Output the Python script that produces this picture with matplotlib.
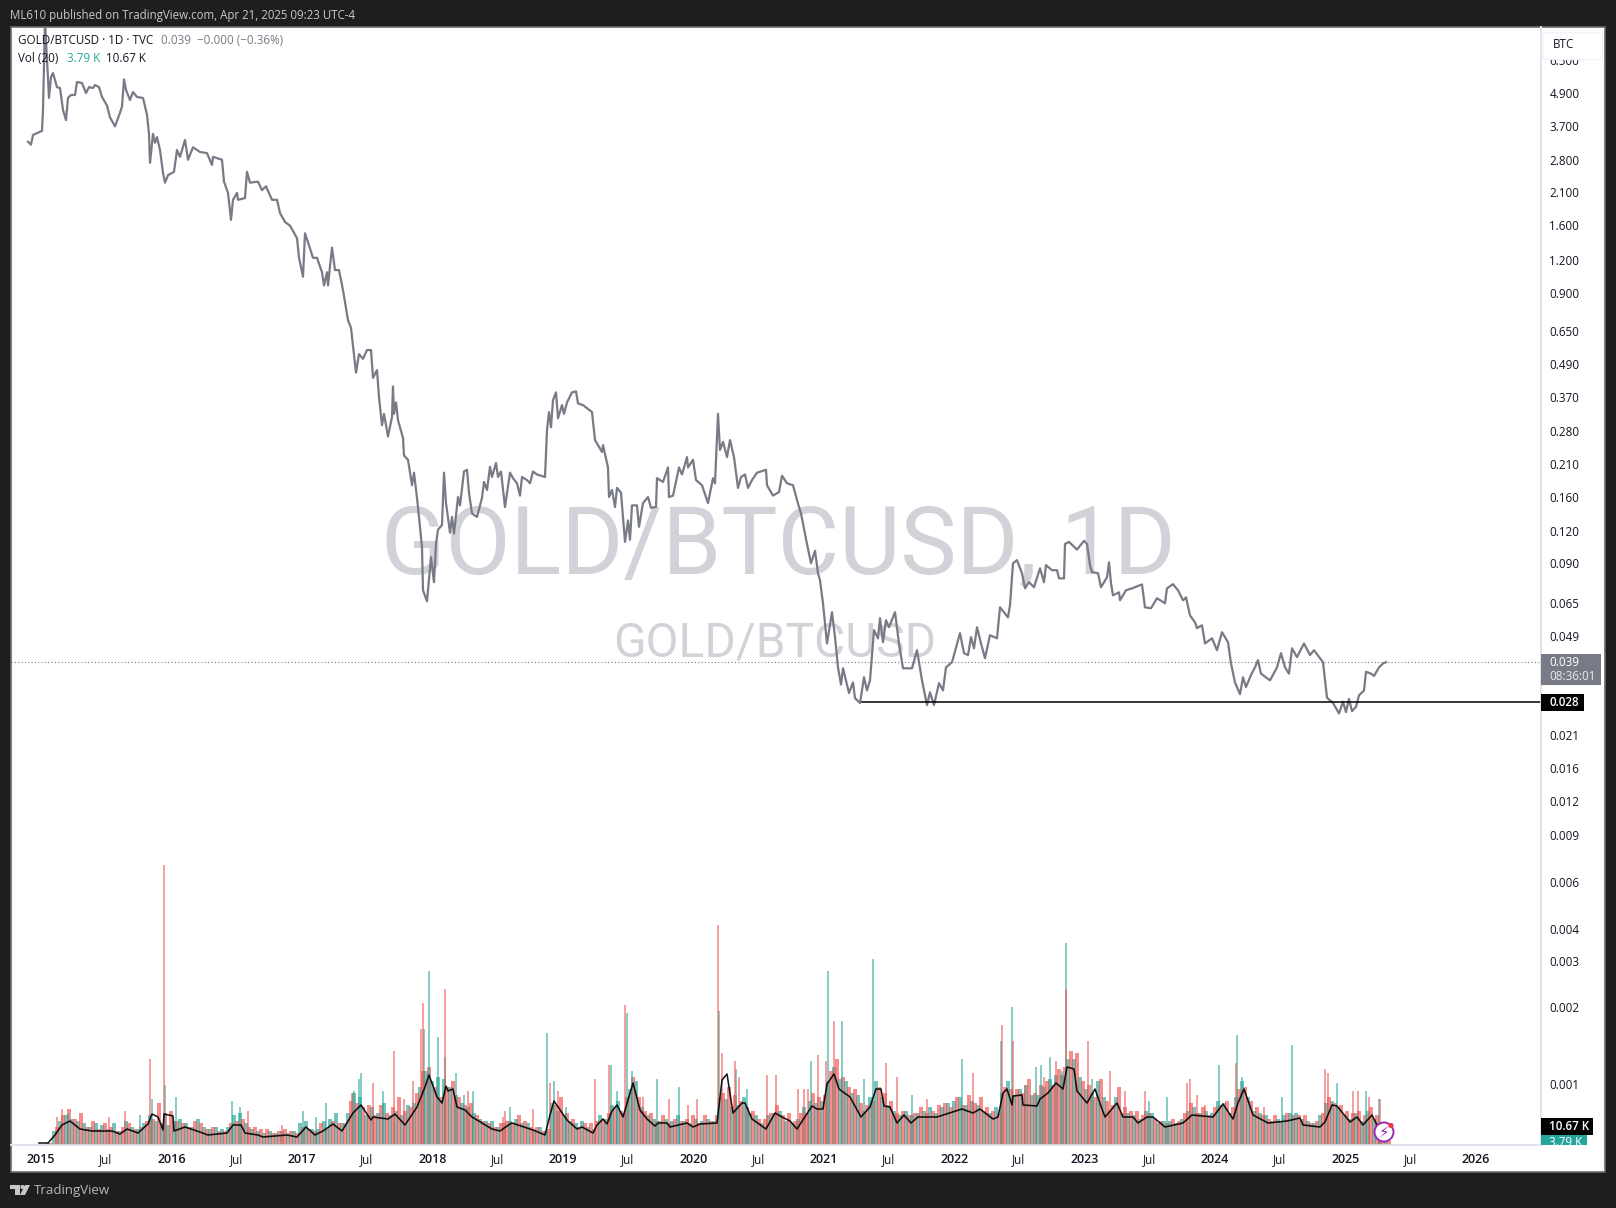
import numpy as np
import pandas as pd
import matplotlib
matplotlib.use("Agg")
import matplotlib.pyplot as plt
from matplotlib.patches import Rectangle, Circle, Polygon

# x positions are kept as weeks since 2015-01-01
price_weeks = [-5.2, -4.0, -3.2, 0.4, 0.8, 1.6, 3.2, 4.0, 4.8, 6.4, 7.6, 8.8, 10, 10.8, 12, 13.6, 14.4, 16.4, 18, 19.2,
               20.8, 21.6, 23.2, 24.4, 26.4, 27.6, 29.6, 31.6, 32.4, 33.2, 34, 35.6, 36.8, 38.4, 40.8, 42.4, 43.2, 43.6, 44.8, 45.6,
               46.4, 47.6, 48.8, 49.6, 50.8, 53.2, 54.4, 55.6, 57.6, 58.8, 60.8, 63.6, 66.4, 68.4, 68.8, 72.4, 73.2, 74.8, 76, 76.8,
               78.4, 78.8, 81.6, 82.4, 83.6, 86.8, 88.4, 90, 92.4, 94.4, 95.6, 97.6, 99.6, 102.4, 103.2, 104.8, 105.6, 106.8, 108.8, 110.4,
               112.4, 113.2, 114.4, 114.8, 116.4, 117.6, 119.2, 120.8, 122.8, 124, 126, 127.2, 128.8, 130.4, 132, 132.8, 134.4, 135.2, 136.4, 137.2,
               138.8, 140.4, 140.8, 141.2, 142, 142.8, 144.8, 145.2, 146.8, 148.4, 149.2, 150.4, 151.2, 152.4, 152.8, 154.4, 156, 157.2, 158, 158.8,
               160.4, 161.2, 162, 163.6, 164.4, 165.2, 166.8, 167.6, 169.2, 170.4, 171.2, 172.4, 174.4, 176.4, 177.2, 178.4, 179.6, 180.4, 182, 182.8,
               184, 185.6, 187.6, 188.8, 190.4, 191.6, 192.4, 194.4, 195.6, 196.8, 198.4, 201.6, 202.4, 203.2, 204, 204.8, 206, 206.8, 208.4, 209.2,
               210.4, 212.4, 214, 214.8, 216.8, 220.4, 221.6, 222.8, 224.4, 224.8, 226.8, 227.2, 228.4, 229.6, 230.4, 232, 233.6, 234.8, 235.6, 236.4,
               238.4, 239.2, 240.8, 242.8, 244, 246, 246.4, 248.8, 250.8, 251.2, 252.8, 255.2, 256.4, 258.4, 258.8, 260.8, 262, 264.4, 266.8, 268.8,
               269.6, 270.8, 271.6, 272.8, 274.4, 275.6, 277.2, 278, 278.8, 280, 281.6, 282.8, 284.4, 286.4, 290, 290.4, 292.8, 295.2, 296.4, 298.4,
               300.8, 302.4, 304, 306.4, 308, 309.6, 310.8, 311.6, 312.8, 314.4, 316.4, 317.6, 318.8, 320, 320.8, 323.2, 324.8, 325.6, 327.6, 329.2,
               330.4, 331.6, 333.2, 334.8, 335.6, 336.8, 338, 339.2, 341.6, 343.2, 344.8, 348.4, 350.4, 352.4, 354.4, 355.6, 357.2, 359.2, 360.8, 362,
               364.4, 367.6, 369.2, 370.8, 372, 373.2, 374.4, 376, 377.6, 379.6, 382.4, 383.6, 386.8, 387.6, 388.8, 390.4, 392.4, 393.6, 395.2, 397.2,
               399.6, 401.2, 402, 404.4, 406.4, 407.2, 409.2, 409.6, 411.2, 414.4, 417.2, 418.4, 419.6, 420.4, 422.8, 424, 426.4, 427.2, 428, 428.8,
               431.2, 431.6, 434, 436.4, 440.4, 441.6, 444, 446.4, 449.6, 450.4, 452.8, 454.8, 456.8, 458, 459.6, 461.6, 462.4, 464.4, 465.6, 468.4,
               470.4, 472.4, 474.8, 476, 477.6, 479.6, 480.8, 482, 484, 485.6, 486.8, 488, 491.6, 494.4, 496, 497.6, 499.2, 500.4, 502.4, 505.2,
               507.6, 509.2, 512.8, 514.4, 516.8, 519.2, 520.8, 522, 523.2, 524.4, 526, 527.2, 529.2, 530, 532, 533.2, 535.2, 536.8, 538]
price_values = [3.25, 3.17, 3.44, 3.56, 4.25, 9.0, 4.70, 5.61, 5.80, 5.15, 5.11, 4.25, 3.90, 4.70, 4.82, 4.82, 5.38, 5.33, 4.90, 5.15,
                5.11, 5.24, 5.15, 4.74, 4.41, 3.99, 3.70, 4.15, 4.37, 5.50, 5.03, 4.62, 4.94, 4.74, 4.70, 4.08, 3.47, 2.72, 3.47, 3.22,
                3.38, 3.03, 2.50, 2.30, 2.45, 2.52, 3.03, 2.86, 3.30, 2.79, 3.10, 2.98, 2.95, 2.67, 2.86, 2.79, 2.32, 2.11, 1.68, 1.99,
                2.11, 1.99, 2.02, 2.52, 2.30, 2.32, 2.16, 2.23, 1.99, 1.99, 1.78, 1.65, 1.60, 1.44, 1.22, 1.04, 1.50, 1.39, 1.22, 1.22,
                1.08, 0.966, 1.08, 0.966, 1.33, 1.10, 1.10, 0.929, 0.721, 0.675, 0.463, 0.541, 0.520, 0.560, 0.560, 0.443, 0.473, 0.377, 0.297, 0.327,
                0.270, 0.318, 0.412, 0.327, 0.360, 0.310, 0.267, 0.230, 0.222, 0.179, 0.199, 0.161, 0.137, 0.106, 0.0738, 0.0672, 0.0975, 0.0790, 0.109, 0.123,
                0.128, 0.199, 0.154, 0.120, 0.137, 0.119, 0.162, 0.151, 0.201, 0.204, 0.168, 0.141, 0.137, 0.161, 0.184, 0.172, 0.209, 0.192, 0.216, 0.192,
                0.201, 0.149, 0.199, 0.190, 0.182, 0.164, 0.192, 0.187, 0.182, 0.201, 0.196, 0.192, 0.285, 0.332, 0.292, 0.367, 0.392, 0.315, 0.352, 0.327,
                0.360, 0.392, 0.395, 0.357, 0.352, 0.332, 0.262, 0.251, 0.237, 0.251, 0.208, 0.162, 0.172, 0.149, 0.175, 0.168, 0.111, 0.133, 0.113, 0.151,
                0.151, 0.126, 0.154, 0.162, 0.148, 0.149, 0.190, 0.184, 0.208, 0.162, 0.164, 0.208, 0.196, 0.227, 0.208, 0.222, 0.187, 0.179, 0.154, 0.190,
                0.182, 0.327, 0.241, 0.258, 0.227, 0.262, 0.227, 0.199, 0.175, 0.192, 0.196, 0.175, 0.187, 0.199, 0.204, 0.179, 0.164, 0.169, 0.194, 0.182,
                0.179, 0.158, 0.141, 0.109, 0.0927, 0.103, 0.0852, 0.0803, 0.0661, 0.0471, 0.0613, 0.0497, 0.0385, 0.0333, 0.0382, 0.0310, 0.0339, 0.0297, 0.0285, 0.0354,
                0.0317, 0.0345, 0.0527, 0.0492, 0.0583, 0.0476, 0.0573, 0.0540, 0.0613, 0.0471, 0.0382, 0.0382, 0.0445, 0.0345, 0.0280, 0.0312, 0.0280, 0.0337, 0.0317, 0.0385,
                0.0402, 0.0514, 0.0434, 0.0427, 0.0497, 0.0452, 0.0540, 0.0471, 0.0416, 0.0505, 0.0492, 0.0639, 0.0587, 0.0650, 0.0927, 0.0951, 0.0852, 0.0750, 0.0790, 0.0757,
                0.0888, 0.0790, 0.0912, 0.0874, 0.0874, 0.0816, 0.0816, 0.109, 0.111, 0.104, 0.112, 0.109, 0.0912, 0.0860, 0.0852, 0.0757, 0.0823, 0.0935, 0.0783, 0.0707,
                0.0725, 0.0678, 0.0738, 0.0750, 0.0775, 0.0639, 0.0634, 0.0690, 0.0661, 0.0750, 0.0777, 0.0738, 0.0678, 0.0695, 0.0597, 0.0563, 0.0536, 0.0549, 0.0471, 0.0492,
                0.0445, 0.0518, 0.0476, 0.0398, 0.0339, 0.0307, 0.0354, 0.0326, 0.0361, 0.0385, 0.0409, 0.0365, 0.0345, 0.0385, 0.0434, 0.0385, 0.0365, 0.0452, 0.0420, 0.0471,
                0.0427, 0.0445, 0.0402, 0.0298, 0.0285, 0.0261, 0.0288, 0.0264, 0.0295, 0.0266, 0.0276, 0.0304, 0.0317, 0.0371, 0.0365, 0.0358, 0.0385, 0.0398, 0.0402]

# volume in thousands, one teal and one red value per 2.4 week slot
vol_up = [0, 1, 7, 12, 15, 13, 12, 11, 9, 11, 10, 8, 11, 7, 12, 9, 8, 11, 15, 12,
          11, 10, 12, 13, 11, 9, 13, 9, 8, 9, 8, 9, 15, 16, 11, 8, 7, 6, 7, 6,
          7, 6, 7, 11, 12, 8, 8, 12, 13, 16, 11, 16, 26, 24, 15, 19, 16, 21, 15, 17,
          15, 20, 21, 29, 37, 32, 34, 33, 29, 25, 21, 19, 16, 13, 12, 12, 9, 11, 12, 13,
          11, 11, 8, 9, 7, 21, 17, 15, 12, 11, 12, 9, 8, 15, 13, 20, 22, 16, 28, 32,
          19, 15, 13, 12, 13, 12, 15, 12, 11, 13, 12, 13, 12, 24, 23, 19, 20, 24, 16, 15,
          11, 15, 16, 17, 12, 11, 13, 19, 22, 21, 22, 32, 39, 33, 32, 26, 25, 17, 24, 32,
          24, 20, 17, 15, 17, 15, 16, 17, 19, 16, 19, 21, 22, 24, 20, 22, 20, 17, 16, 19,
          26, 32, 25, 28, 30, 25, 25, 29, 33, 35, 35, 43, 43, 34, 28, 26, 32, 24, 17, 24,
          16, 16, 15, 13, 17, 16, 11, 12, 12, 11, 13, 17, 19, 16, 17, 16, 22, 21, 16, 24,
          32, 24, 17, 16, 15, 12, 13, 15, 16, 16, 13, 12, 11, 15, 21, 22, 19, 15, 13, 16,
          12, 17, 13, 8, 2]
vol_down = [0, 1, 9, 15, 18, 13, 16, 9, 12, 8, 11, 9, 7, 9, 11, 8, 9, 12, 13, 21,
            16, 17, 12, 11, 9, 12, 11, 8, 9, 7, 7, 11, 12, 13, 9, 9, 8, 8, 6, 7,
            8, 7, 6, 9, 8, 7, 11, 8, 12, 11, 11, 22, 21, 19, 20, 15, 20, 16, 19, 24,
            17, 19, 26, 37, 39, 29, 24, 29, 32, 24, 20, 21, 15, 12, 11, 9, 11, 12, 11, 15,
            12, 9, 9, 7, 8, 20, 24, 16, 13, 9, 11, 11, 12, 13, 16, 19, 17, 24, 34, 24,
            17, 16, 12, 15, 11, 13, 12, 13, 15, 11, 15, 12, 15, 26, 29, 25, 22, 19, 17, 13,
            13, 16, 20, 15, 16, 12, 16, 16, 26, 24, 25, 37, 43, 34, 29, 28, 21, 20, 22, 29,
            26, 22, 16, 17, 15, 16, 19, 16, 17, 20, 21, 19, 24, 20, 25, 21, 24, 19, 17, 16,
            29, 28, 28, 26, 33, 26, 30, 32, 30, 38, 39, 47, 46, 32, 30, 24, 33, 22, 20, 29,
            19, 17, 17, 15, 16, 13, 12, 11, 13, 12, 16, 21, 16, 19, 15, 19, 20, 22, 19, 28,
            29, 22, 19, 15, 13, 15, 12, 16, 15, 15, 15, 11, 12, 16, 24, 21, 20, 17, 16, 17,
            15, 19, 15, 9, 2]

# single tall days, read one by one
spike_up_weeks = [10.8, 39.6, 44.4, 49.6, 54, 76.4, 79.6, 104.8, 110, 114, 125.2, 127.2, 128, 136.8, 153.2, 155.2, 158.8, 161.6, 166, 169.2,
                  172.8, 187.6, 202.4, 205.2, 210, 228, 230.4, 234.4, 236.4, 246.4, 255.2, 271.2, 278, 282.4, 308, 314.8, 320.4, 329.2, 332.8, 348.4,
                  368.4, 384, 388.4, 398, 400, 403.6, 408.4, 410, 420.4, 443.2, 450.4, 471.2, 478.4, 480.4, 496.4, 500.4, 518.4, 530, 535.2]
spike_up_vol = [16, 15, 23, 30, 24, 22, 19, 17, 14, 21, 27, 33, 36, 27, 58, 87, 54, 44, 36, 25,
                27, 19, 56, 32, 19, 40, 27, 66, 37, 33, 29, 67, 38, 28, 42, 87, 62, 33, 93, 25,
                43, 52, 69, 39, 40, 44, 37, 101, 33, 22, 24, 40, 55, 34, 24, 50, 31, 27, 23]
spike_down_weeks = [6.4, 8.4, 27.2, 33.6, 43.6, 49.2, 82.8, 96.4, 124.4, 132.8, 141.2, 145.2, 148.8, 152, 152.8, 161.6, 170.8, 184.8, 185.6, 196.8,
                    203.6, 206.8, 221.6, 227.2, 233.6, 240.8, 251.2, 258.8, 262.4, 270.8, 272.4, 277.6, 279.2, 290.4, 294, 302.8, 305.2, 306.8, 310.8, 314,
                    317.2, 338, 342.4, 354.4, 372.8, 384.4, 388.8, 393.6, 401.2, 406, 410, 418.8, 427.6, 433.6, 441.6, 458.4, 459.6, 462.4, 465.6, 478,
                    489.2, 513.6, 514.8, 524.8, 526.8, 531.2, 535.6]
spike_down_vol = [14, 18, 14, 17, 43, 140, 17, 10, 26, 31, 47, 23, 32, 58, 71, 78, 27, 14, 17, 18,
                  31, 27, 33, 40, 70, 24, 23, 20, 23, 110, 46, 42, 34, 35, 35, 28, 28, 28, 45, 42,
                  62, 41, 34, 23, 36, 60, 52, 30, 34, 42, 78, 52, 37, 27, 27, 31, 33, 25, 20, 41,
                  19, 38, 36, 27, 27, 24, 23]

ma_weeks = [-0.8, 2.8, 5.6, 8.4, 11.6, 15.6, 20.4, 25.6, 28.4, 31.6, 34.4, 38.8, 42.8, 44.4, 46.8, 48.8, 49.2, 52.8, 53.2, 57.6,
            62.4, 66.8, 74.4, 76.8, 80, 81.6, 86.8, 88.8, 98.4, 102.4, 106, 109.6, 112.8, 116.8, 120.4, 124.8, 128, 132, 132.8, 138.8,
            141.6, 145.6, 150.4, 153.6, 155.2, 158.4, 160.4, 162, 162.8, 164.8, 166.4, 169.6, 172.4, 180.4, 183.6, 187.6, 188.4, 196.8, 201.6, 203.6,
            205.2, 210.4, 214.4, 216.4, 220.8, 222.4, 224.8, 226.4, 228.4, 230.4, 232.8, 234.8, 236.8, 239.6, 242.4, 245.6, 246.8, 250.4, 251.6, 258.4,
            260.8, 263.6, 270.4, 272.4, 274.4, 276.8, 280.4, 281.6, 284.4, 290, 293.6, 296.4, 299.6, 302.4, 308.4, 310.4, 312.8, 314.4, 317.2, 319.2,
            323.6, 328, 331.6, 334, 336, 337.2, 339.6, 342.4, 345.2, 348, 350.8, 358.4, 368.4, 372.8, 375.6, 380.8, 382.8, 384.8, 386.4, 388.4,
            388.8, 392.4, 392.8, 398.4, 399.6, 402.8, 406, 408.8, 410.4, 413.2, 414.4, 418.4, 421.6, 424.4, 425.6, 430.4, 432.8, 436.8, 438.8, 442.4,
            444.8, 449.6, 456.8, 460.4, 468.8, 472.8, 476.8, 478.8, 481.2, 484.8, 490.8, 498.4, 503.6, 504.8, 511.6, 513.6, 516.4, 518.4, 523.6, 526.4,
            528.8, 532.4, 534.4]
ma_values = [1, 1, 5, 10, 12, 8, 7, 7, 7, 5.5, 8, 6, 10.5, 15.5, 14, 7.5, 15.5, 14.5, 7, 9,
             7, 5, 6, 10, 10, 6, 5, 4, 5, 4, 9, 5, 7, 10.5, 7, 16, 20, 12.5, 14, 13,
             15.5, 10, 19, 29, 35, 24, 21, 29.5, 27, 28, 19, 17.5, 14, 8, 7, 10.5, 11, 7.5, 5, 15,
             22, 12.5, 8, 9, 6, 10, 13, 10.5, 17, 20, 14, 22.5, 31, 17.5, 13, 9.5, 11, 11, 9, 11,
             9, 10.5, 11, 32.5, 35.5, 16, 21, 21, 13, 8, 16, 14, 12, 8, 19.5, 18, 18, 30.5, 35.5, 28,
             24, 14, 19, 28, 28, 19.5, 19, 11, 15, 11, 14, 14, 18, 16, 18, 13, 14, 26, 28, 20,
             24.5, 25, 20, 19.5, 23, 26, 31, 28, 39, 38, 27, 21, 28, 18, 14, 21, 14, 14, 11, 14,
             14, 9, 11, 15, 14, 20.5, 13, 21, 28, 15, 11, 12, 13.5, 10, 9, 11.5, 20, 19.5, 11.5, 14,
             10, 15, 10]

level_value = 0.0287
level_start_week = 328.4
last_value = 0.0402

# the labels on this axis are rounded, the values are where they really sit
y_ticks = [6.5, 4.9, 3.70, 2.78, 2.12, 1.61, 1.20, 0.907, 0.658, 0.50, 0.377, 0.283, 0.214, 0.162, 0.122, 0.0927, 0.0663, 0.050,
           0.0218, 0.0165, 0.01245, 0.00939, 0.0063, 0.00425, 0.00322, 0.0022, 0.001145]
y_labels = ["6.500", "4.900", "3.700", "2.800", "2.100", "1.600", "1.200", "0.900", "0.650", "0.490", "0.370", "0.280", "0.210", "0.160",
            "0.120", "0.090", "0.065", "0.049", "0.021", "0.016", "0.012", "0.009", "0.006", "0.004", "0.003", "0.002", "0.001"]
x_tick_dates = ["2015-01-01", "2015-07-01", "2016-01-01", "2016-07-01", "2017-01-01", "2017-07-01", "2018-01-01", "2018-07-01",
                "2019-01-01", "2019-07-01", "2020-01-01", "2020-07-01", "2021-01-01", "2021-07-01", "2022-01-01", "2022-07-01",
                "2023-01-01", "2023-07-01", "2024-01-01", "2024-07-01", "2025-01-01", "2025-07-01", "2026-01-01"]
x_labels = ["2015", "Jul", "2016", "Jul", "2017", "Jul", "2018", "Jul", "2019", "Jul", "2020", "Jul", "2021", "Jul", "2022", "Jul",
            "2023", "Jul", "2024", "Jul", "2025", "Jul", "2026"]

UP = "#26a69a"
DOWN = "#ef5350"
GREY = "#787b86"
INK = "#131722"
FONT = "Open Sans"
W, H = 1616, 1208


def to_dates(weeks):
    return (pd.Timestamp("2015-01-01") + pd.to_timedelta(np.asarray(weeks, dtype=float) * 7, unit="D")).to_numpy()


plt.rcParams["font.family"] = [FONT, "DejaVu Sans"]

fig = plt.figure(figsize=(W / 100, H / 100), dpi=100, facecolor="#1e1e1e")
ax = fig.add_axes([11 / W, (H - 1145) / H, (1541 - 11) / W, (1145 - 27) / H])
ax2 = ax.twinx()
top = fig.add_axes([0, 0, 1, 1], zorder=10)
top.set_xlim(0, W)
top.set_ylim(H, 0)
top.axis("off")
top.patch.set_alpha(0)

# white panel behind the chart, with its thin grey border
fig.patches.append(Rectangle((11, 27), 1594, 1145, transform=top.transData, fc="white", ec="#6a6a6a", lw=1.2, zorder=-5))

ax.set_zorder(1)
ax2.set_zorder(2)
ax.patch.set_alpha(0)
ax2.patch.set_alpha(0)

# watermark
ax.text(778, 547, "GOLD/BTCUSD, 1D", transform=top.transData, fontsize=68, color="#d2d3d8", ha="center", va="center", zorder=0, family="Roboto")
ax.text(775, 644, "GOLD/BTCUSD", transform=top.transData, fontsize=34.5, color="#d2d3d8", ha="center", va="center", zorder=0, family="Roboto")

# volume pane: 2 px per thousand
slot_weeks = np.arange(len(vol_up)) * 2.4 + 0.4
ax2.bar(to_dates(slot_weeks), vol_up, width=np.timedelta64(10, "D"), color=UP, alpha=0.66, lw=0)
ax2.bar(to_dates(slot_weeks + 1.2), vol_down, width=np.timedelta64(10, "D"), color=DOWN, alpha=0.66, lw=0)
ax2.bar(to_dates(spike_up_weeks), spike_up_vol, width=np.timedelta64(3, "D"), color=UP, alpha=0.55, lw=0)
ax2.bar(to_dates(spike_down_weeks), spike_down_vol, width=np.timedelta64(3, "D"), color=DOWN, alpha=0.55, lw=0)
ax2.plot(to_dates(ma_weeks), ma_values, color="black", lw=1.15, alpha=0.9)
ax2.set_ylim(0, (1145 - 27) / 2)
ax2.set_yticks([])

# price pane
ax.set_yscale("log")
ax.plot(to_dates(price_weeks), price_values, color=GREY, lw=1.6, zorder=3, solid_joinstyle="round")
ax.axhline(last_value, color=GREY, lw=0.8, ls=(0, (1, 2)), zorder=2)
ax.plot(to_dates([level_start_week, 620]), [level_value, level_value], color="black", lw=1.1, zorder=4)
ax.set_xlim(to_dates([-12, 600]))
ax.set_ylim(0.000684, 8.554)
ax.yaxis.tick_right()
ax.set_yticks(y_ticks, y_labels)
ax.minorticks_off()
ax.set_xticks(pd.to_datetime(x_tick_dates).to_numpy(), x_labels)
ax.tick_params(axis="y", length=0, pad=6, labelsize=8.4, labelcolor=INK)
ax.tick_params(axis="x", length=0, pad=6, labelsize=8.4, labelcolor=INK)
for lab in ax.get_xticklabels():
    if lab.get_text() != "Jul":
        lab.set_fontweight("semibold")
        lab.set_fontsize(9)

for a in (ax, ax2):
    for s in ("top", "left"):
        a.spines[s].set_visible(False)
    for s in ("bottom", "right"):
        a.spines[s].set_color("#e0e3eb")
        a.spines[s].set_linewidth(1.2)

# header and footer
top.text(10, 15, "ML610 published on TradingView.com, Apr 21, 2025 09:23 UTC-4", color="#c9c9c9", fontsize=8.3, va="center")
top.text(18, 41, "GOLD/BTCUSD · 1D · TVC", color=INK, fontsize=8.4, va="center")
top.text(161, 41, "0.039  −0.000 (−0.36%)", color=GREY, fontsize=8.4, va="center")
top.text(18, 59, "Vol (20)", color=INK, fontsize=8.4, va="center")
top.text(67, 59, "3.79 K", color=UP, fontsize=8.4, va="center")
top.text(106, 59, "10.67 K", color=INK, fontsize=8.4, va="center")
top.text(34, 1190.5, "TradingView", color="#b8b8b8", fontsize=9.5, va="center")

# TradingView mark
top.add_patch(Polygon([(10, 1185), (20, 1185), (20, 1195), (15, 1195), (15, 1189), (10, 1189)], fc="#c8c8c8", lw=0))
top.add_patch(Circle((22.5, 1187), 2.1, fc="#c8c8c8", lw=0))
top.add_patch(Polygon([(25, 1185), (30, 1185), (25, 1195), (20, 1195)], fc="#c8c8c8", lw=0))

# scale button, hides the top of the first label
top.add_patch(Rectangle((1543, 32), 59, 26.5, fc="white", ec="#f0f3fa", lw=1))
top.text(1553, 44.5, "BTC", color=INK, fontsize=8.4, va="center")

# price tags
top.add_patch(Rectangle((1541, 654), 60, 31, fc=GREY, lw=0))
top.text(1549, 662, "0.039", color="white", fontsize=8.4, va="center")
top.text(1549, 677, "08:36:01", color="#e8e8e8", fontsize=8.4, va="center")
top.add_patch(Rectangle((1541, 694), 43, 17, fc="black", lw=0))
top.text(1549, 702.5, "0.028", color="white", fontsize=8.4, va="center", fontweight="semibold")
top.add_patch(Rectangle((1541, 1118), 52, 17, fc="black", lw=0))
top.text(1549, 1126.5, "10.67 K", color="white", fontsize=8.4, va="center", fontweight="semibold")
teal_tag = Rectangle((1541, 1135), 46, 10, fc=UP, lw=0)
top.add_patch(teal_tag)
tag_text = top.text(1549, 1143, "3.79 K", color="white", fontsize=8.4, va="center")
tag_text.set_clip_path(teal_tag)

# lightning badge
top.add_patch(Circle((1384, 1132), 9.5, fc="white", ec="#9c27b0", lw=1.4))
top.text(1384, 1132.5, "⚡", color="#9c27b0", fontsize=11, ha="center", va="center", family="DejaVu Sans")
top.add_patch(Circle((1391, 1125.5), 2.6, fc="#f23645", lw=0))

fig.savefig("out.png", dpi=100, facecolor=fig.get_facecolor())
